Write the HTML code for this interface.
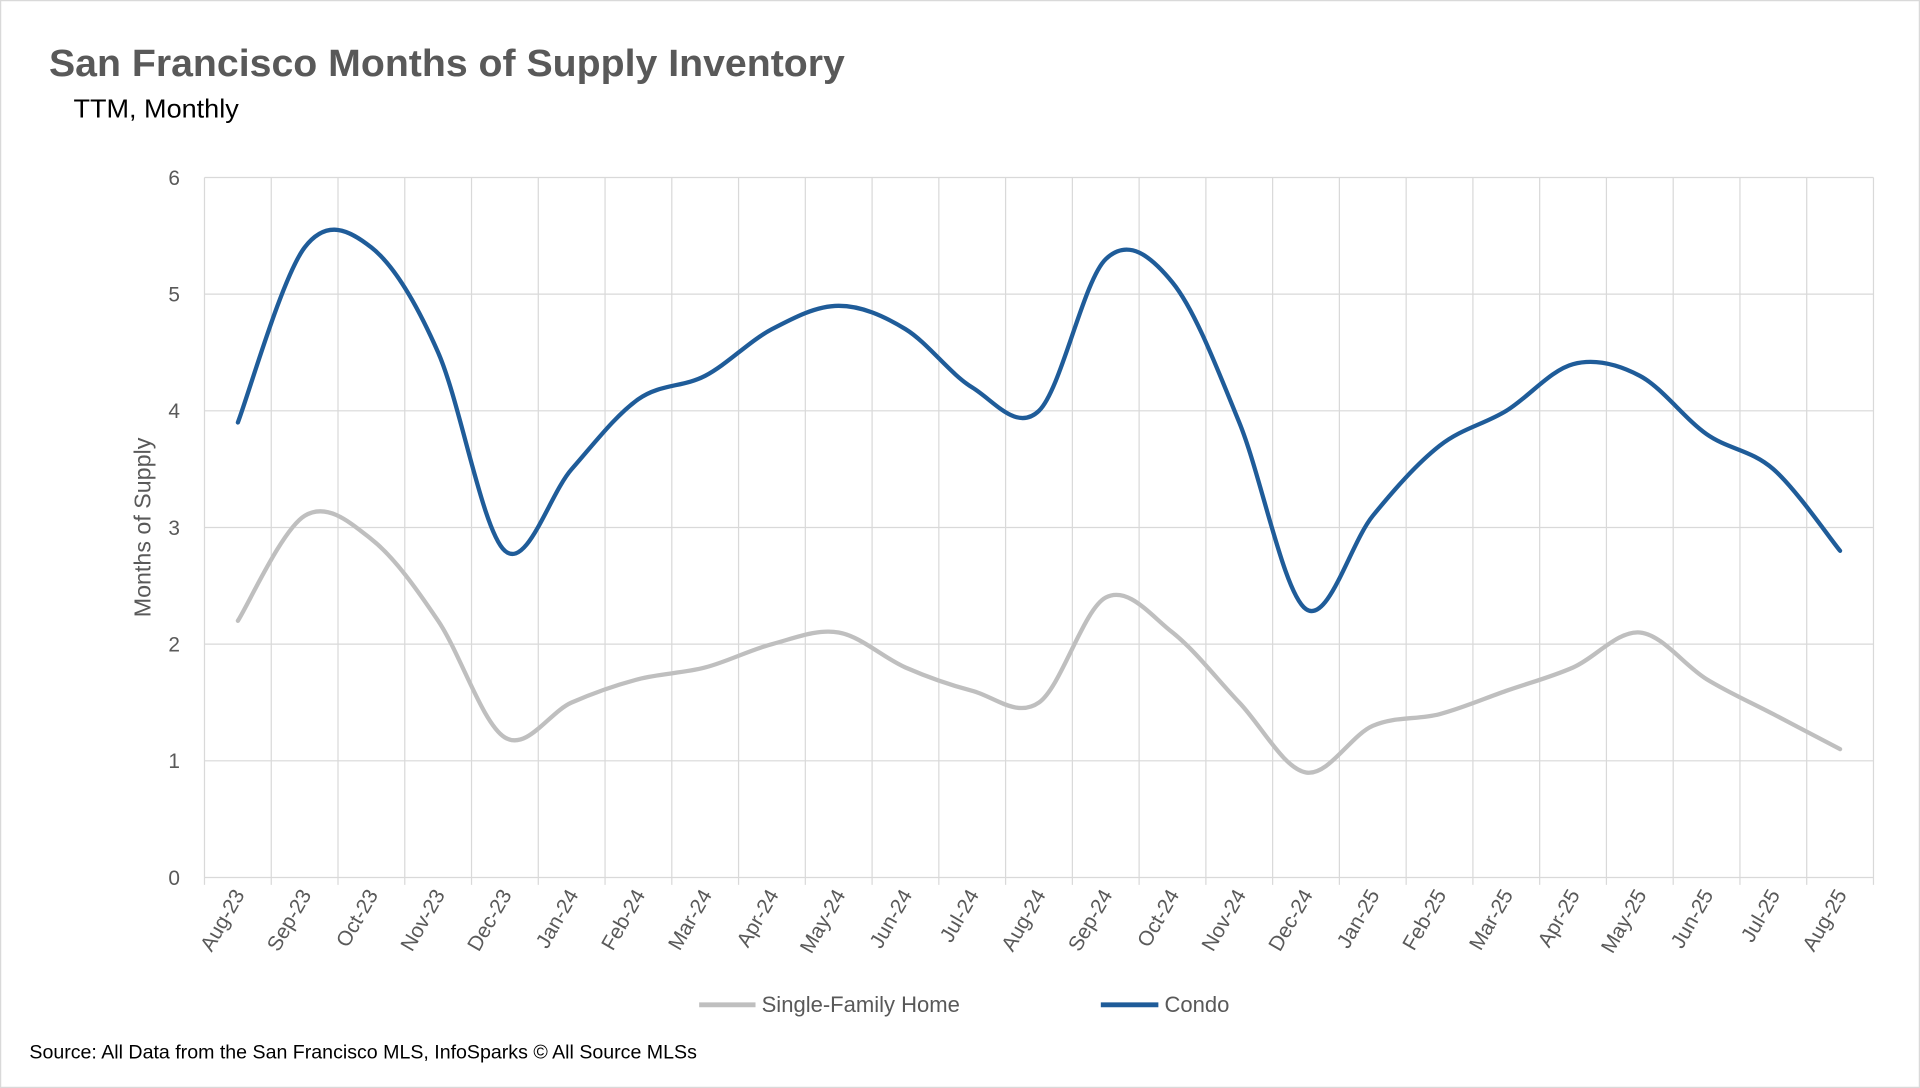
<!DOCTYPE html>
<html><head><meta charset="utf-8"><style>
html,body{margin:0;padding:0;background:#fff;}
svg{display:block;font-family:"Liberation Sans",sans-serif;}
</style></head><body>
<svg id="chart" width="1920" height="1088" viewBox="0 0 1568 889" preserveAspectRatio="none" xmlns="http://www.w3.org/2000/svg">
<rect x="0.5" y="0.5" width="1567" height="888" fill="#fff" stroke="#d9d9d9"/>
<text x="40" y="62" font-size="31" font-weight="bold" fill="#595959" textLength="650" lengthAdjust="spacingAndGlyphs">San Francisco Months of Supply Inventory</text>
<text x="60" y="96" font-size="21" fill="#000" textLength="135" lengthAdjust="spacingAndGlyphs">TTM, Monthly</text>
<g id="grid"></g><g id="axes"></g><g id="series"></g>
<text transform="translate(123,431) rotate(-90)" text-anchor="middle" font-size="19" fill="#595959">Months of Supply</text>
<g>
<g><line x1="571" y1="821" x2="617" y2="821" stroke="#bfbfbf" stroke-width="4"/><text x="622" y="827" font-size="18" fill="#595959">Single-Family Home</text></g>
<g><line x1="899" y1="821" x2="946" y2="821" stroke="#1f5c99" stroke-width="4"/><text x="951" y="827" font-size="18" fill="#595959">Condo</text></g>
</g>
<text x="24" y="865" font-size="16" fill="#000">Source: All Data from the San Francisco MLS, InfoSparks © All Source MLSs</text>
</svg>
<script>
const categories=["Aug-23","Sep-23","Oct-23","Nov-23","Dec-23","Jan-24","Feb-24","Mar-24","Apr-24","May-24","Jun-24","Jul-24","Aug-24","Sep-24","Oct-24","Nov-24","Dec-24","Jan-25","Feb-25","Mar-25","Apr-25","May-25","Jun-25","Jul-25","Aug-25"];
const condoValues=[3.9,5.4,5.4,4.5,2.8,3.5,4.1,4.3,4.7,4.9,4.7,4.2,4.0,5.3,5.1,3.9,2.3,3.1,3.7,4.0,4.4,4.3,3.8,3.5,2.8];
const sfhValues=[2.2,3.1,2.9,2.2,1.2,1.5,1.7,1.8,2.0,2.1,1.8,1.6,1.5,2.4,2.1,1.5,0.9,1.3,1.4,1.6,1.8,2.1,1.7,1.4,1.1];
const yTicks=[0,1,2,3,4,5,6];
const NS="http://www.w3.org/2000/svg";
const L=167,R=1530,T=145,B=717,yMax=6;
const band=(R-L)/categories.length;
const xPos=i=>L+band*(i+0.5);
const yPos=v=>B-(v/yMax)*(B-T);
function mk(tag,attrs,parent){const e=document.createElementNS(NS,tag);for(const k in attrs)e.setAttribute(k,attrs[k]);parent.appendChild(e);return e;}
const grid=document.getElementById('grid'),axes=document.getElementById('axes'),series=document.getElementById('series');
yTicks.forEach(t=>{
  const ln=mk('line',{x1:L,x2:R,y1:yPos(t),y2:yPos(t),stroke:'#d9d9d9','stroke-width':1},grid);
  
  
  const tx=mk('text',{x:L-20,y:yPos(t)+6,'text-anchor':'end','font-size':17,fill:'#595959'},axes);
  tx.textContent=t;
  
  
});
for(let i=0;i<=categories.length;i++){
  const x=L+band*i;
  const ln=mk('line',{x1:x,x2:x,y1:T,y2:B+6,stroke:'#d9d9d9','stroke-width':1},grid);
  
  
}
categories.forEach((c,i)=>{
  const x=xPos(i)+6,y=B+14;
  const tx=mk('text',{x:x,y:y,'text-anchor':'end','font-size':17,fill:'#595959',transform:`rotate(-60 ${x} ${y})`},axes);
  tx.textContent=c;
  
  
});
function smooth(vals){
  const p=vals.map((v,i)=>[xPos(i),yPos(v)]);
  let d=`M${p[0][0]},${p[0][1]}`;
  for(let i=0;i<p.length-1;i++){
    const p0=p[i-1]||p[i],p1=p[i],p2=p[i+1],p3=p[i+2]||p[i+1];
    const c1=[p1[0]+(p2[0]-p0[0])/6,p1[1]+(p2[1]-p0[1])/6];
    const c2=[p2[0]-(p3[0]-p1[0])/6,p2[1]-(p3[1]-p1[1])/6];
    d+=` C${c1[0]},${c1[1]} ${c2[0]},${c2[1]} ${p2[0]},${p2[1]}`;
  }
  return d;
}
const s1=mk('path',{d:smooth(sfhValues),fill:'none',stroke:'#bfbfbf','stroke-width':3.5,'stroke-linecap':'round'},series);


const s2=mk('path',{d:smooth(condoValues),fill:'none',stroke:'#1f5c99','stroke-width':3.5,'stroke-linecap':'round'},series);


</script>
</body></html>
